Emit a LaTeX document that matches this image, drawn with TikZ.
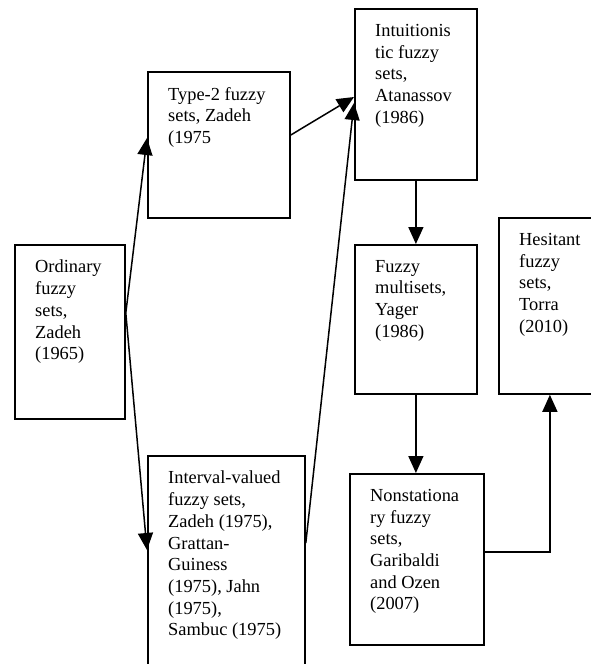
\documentclass[tikz,border=0pt]{standalone}
\usepackage{fontspec}
\setmainfont{Liberation Serif}
\usetikzlibrary{arrows.meta,positioning,calc}

\begin{document}
\begin{tikzpicture}[
    x=1pt, y=-1pt,
    font=\fontsize{18.4}{21.7}\selectfont,
    >={Triangle[length=17pt,width=15pt]},
    setbox/.style={rectangle, draw=black, line width=1.8pt, anchor=north west, inner sep=0pt},
    setlabel/.style={anchor=north west, align=left, inner sep=0pt},
    flow/.style={->, line width=1.5pt, draw=black}
  ]
  \clip (0,0) rectangle (591,664);
  % boxes
  \node[setbox, minimum width=110pt, minimum height=174pt] (ord) at (14,244) {};
  \node[setbox, minimum width=142pt, minimum height=146pt] (type2) at (147,71) {};
  \node[setbox, minimum width=157pt, minimum height=240pt] (intv) at (147,455) {};
  \node[setbox, minimum width=122pt, minimum height=171pt] (intu) at (354,8) {};
  \node[setbox, minimum width=122pt, minimum height=149pt] (fmult) at (354,244) {};
  \node[setbox, minimum width=134pt, minimum height=171pt] (nonst) at (349,473) {};
  \node[setbox, minimum width=102pt, minimum height=176pt] (hes) at (498,217) {};
  % texts
  \node[setlabel] (ordtxt) at ([xshift=21pt,yshift=-16pt]ord.north west)
    {Ordinary\\fuzzy\\sets,\\Zadeh\\(1965)};
  \node[setlabel] (type2txt) at ([xshift=21pt,yshift=-16pt]type2.north west)
    {Type-2 fuzzy\\sets, Zadeh\\(1975};
  \node[setlabel] (intvtxt) at ([xshift=21pt,yshift=-16pt]intv.north west)
    {Interval-valued\\fuzzy sets,\\Zadeh (1975),\\Grattan-\\Guiness\\(1975), Jahn\\(1975),\\Sambuc (1975)};
  \node[setlabel] (intutxt) at ([xshift=21pt,yshift=-16pt]intu.north west)
    {Intuitionis\\tic fuzzy\\sets,\\Atanassov\\(1986)};
  \node[setlabel] (fmulttxt) at ([xshift=21pt,yshift=-16pt]fmult.north west)
    {Fuzzy\\multisets,\\Yager\\(1986)};
  \node[setlabel] (nonsttxt) at ([xshift=21pt,yshift=-16pt]nonst.north west)
    {Nonstationa\\ry fuzzy\\sets,\\Garibaldi\\and Ozen\\(2007)};
  \node[setlabel] (hestxt) at ([xshift=21pt,yshift=-16pt]hes.north west)
    {Hesitant\\fuzzy\\sets,\\Torra\\(2010)};
  % connector ends
  \coordinate (ordout) at ([yshift=-69pt]ord.north east);
  \coordinate (type2in) at ([yshift=-67pt]type2.north west);
  \coordinate (intvin) at ([yshift=-95pt]intv.north west);
  \coordinate (type2out) at ([yshift=-64pt]type2.north east);
  \coordinate (intvout) at ([yshift=-88pt]intv.north east);
  \coordinate (intuin1) at ([yshift=-89pt]intu.north west);
  \coordinate (intuin2) at ([yshift=-95pt]intu.north west);
  \coordinate (nonstout) at ([yshift=-79pt]nonst.north east);
  % connectors
  \draw[flow] (ordout) -- (type2in);
  \draw[flow] (ordout) -- (intvin);
  \draw[flow] (type2out) -- (intuin1);
  \draw[flow] (intvout) -- (intuin2);
  \draw[flow] (intu.south) -- (fmult.north);
  \draw[flow] (fmult.south) -- (fmult.south |- nonst.north);
  \draw[flow] (nonstout) -| (hes.south);
\end{tikzpicture}
\end{document}
